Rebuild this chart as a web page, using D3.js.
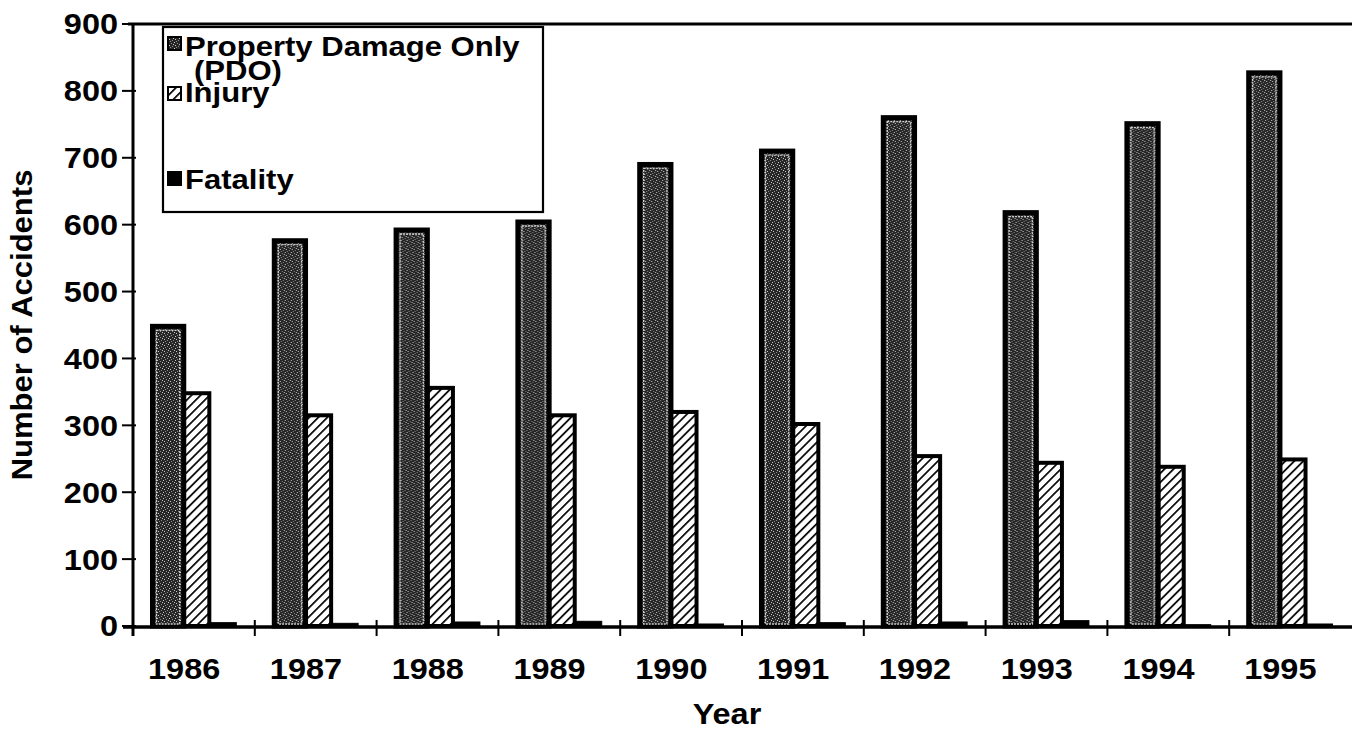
<!DOCTYPE html>
<html>
<head>
<meta charset="utf-8">
<script src="https://cdn.jsdelivr.net/npm/d3@7"></script>
<style>
  html, body { margin: 0; padding: 0; background: #fff; }
  svg { display: block; }
  text { font-family: "Liberation Sans", Arial, sans-serif; font-weight: bold; fill: #000; }
</style>
</head>
<body>
<svg id="chart" width="1352" height="730"></svg>
<script>
// ---- data ----
const years = ["1986","1987","1988","1989","1990","1991","1992","1993","1994","1995"];
const seriesNames = ["Property Damage Only (PDO)", "Injury", "Fatality"];
const pdo      = [448, 576, 592, 604, 690, 710, 760, 618, 751, 827];
const injury   = [348, 315, 356, 315, 320, 302, 254, 244, 238, 249];
const fatality = [5, 4, 6, 7, 3, 5, 6, 8, 2, 3];
const yTicks = [0, 100, 200, 300, 400, 500, 600, 700, 800, 900];

const svg = d3.select("#chart");
const W = 1352, H = 730;
const plot = { left: 133, right: 1351, top: 24, bottom: 626 };
const STRETCH = 1.12;
const FS = 29;

// ---- patterns ----
const defs = svg.append("defs");
const stip = defs.append("pattern").attr("id", "stipple")
  .attr("patternUnits", "userSpaceOnUse").attr("width", 6).attr("height", 6);
stip.append("rect").attr("width", 6).attr("height", 6).attr("fill", "#262626");
[[0,0],[3,1],[1,3],[4,4],[5,2],[2,5]].forEach(([x,yy],i) => {
  stip.append("rect").attr("x", x).attr("y", yy).attr("width", 1).attr("height", 1)
    .attr("fill", i % 2 ? "#8a8a8a" : "#c8c8c8");
});
const hatch = defs.append("pattern").attr("id", "hatch")
  .attr("patternUnits", "userSpaceOnUse").attr("width", 6.4).attr("height", 6.4)
  .attr("patternTransform", "rotate(45)");
hatch.append("rect").attr("width", 6.4).attr("height", 6.4).attr("fill", "#fff");
hatch.append("line").attr("x1", 0).attr("y1", 0).attr("x2", 0).attr("y2", 6.4)
  .attr("stroke", "#000").attr("stroke-width", 3.4);

// ---- scales ----
const x0 = d3.scaleBand().domain(years).range([plot.left, plot.right]).padding(0);
const bw = x0.bandwidth();
const x1 = d3.scaleBand().domain(seriesNames).range([bw * 0.16, bw * 0.86]).padding(0);
const sb = x1.bandwidth();
const y = d3.scaleLinear().domain([0, 900]).range([plot.bottom, plot.top]);

function stretchText(sel, x, yy, rot, s) {
  sel.attr("transform", `translate(${x},${yy})` + (rot ? ` rotate(${rot})` : "") + ` scale(${s || STRETCH},1)`);
}

// ---- bars ----
const data = years.map((yr, i) => ({ yr, vals: [pdo[i], injury[i], fatality[i]] }));
const groups = svg.append("g").selectAll("g").data(data).join("g")
  .attr("transform", d => `translate(${x0(d.yr)},0)`);

groups.append("rect")
  .attr("x", x1(seriesNames[2]))
  .attr("y", d => y(d.vals[2]))
  .attr("width", sb * 0.95)
  .attr("height", d => y(0) - y(d.vals[2]))
  .attr("fill", "#000").attr("stroke", "#000").attr("stroke-width", 1);

groups.append("rect")
  .attr("x", x1(seriesNames[1]) + sb * 0.1)
  .attr("y", d => y(d.vals[1]))
  .attr("width", sb * 0.9)
  .attr("height", d => y(0) - y(d.vals[1]))
  .attr("fill", "url(#hatch)").attr("stroke", "#000").attr("stroke-width", 4);

groups.append("rect")
  .attr("x", x1(seriesNames[0]))
  .attr("y", d => y(d.vals[0]))
  .attr("width", sb * 1.1)
  .attr("height", d => y(0) - y(d.vals[0]))
  .attr("fill", "url(#stipple)").attr("stroke", "#000").attr("stroke-width", 5);
groups.append("rect")
  .attr("x", x1(seriesNames[0]) + 4)
  .attr("y", d => y(d.vals[0]) + 4)
  .attr("width", sb * 1.1 - 8)
  .attr("height", d => y(0) - y(d.vals[0]) - 6)
  .attr("fill", "none").attr("stroke", "#d0d0d0").attr("stroke-width", 1.3)
  .attr("stroke-dasharray", "2,1");

// ---- axes ----
const axes = svg.append("g");
axes.append("line").attr("x1", plot.left - 5).attr("x2", W).attr("y1", y(900)).attr("y2", y(900))
  .attr("stroke", "#000").attr("stroke-width", 3);
axes.append("line").attr("x1", plot.left).attr("x2", plot.left).attr("y1", y(900)).attr("y2", y(0) + 10)
  .attr("stroke", "#000").attr("stroke-width", 3);
axes.append("line").attr("x1", plot.left - 10).attr("x2", W).attr("y1", y(0) + 1).attr("y2", y(0) + 1)
  .attr("stroke", "#000").attr("stroke-width", 3.4);

const yt = axes.append("g").selectAll("g").data(yTicks).join("g");
yt.append("line").attr("x1", plot.left - 11).attr("x2", plot.left + 3)
  .attr("y1", d => y(d)).attr("y2", d => y(d)).attr("stroke", "#000").attr("stroke-width", 2);
yt.append("text").attr("text-anchor", "end").attr("font-size", FS)
  .attr("dy", "0.36em")
  .each(function(d) { stretchText(d3.select(this), 118, y(d)); })
  .text(d => d);

const bounds = years.map(yr => x0(yr));
axes.append("g").selectAll("line").data(bounds).join("line")
  .attr("x1", d => d).attr("x2", d => d)
  .attr("y1", y(0) - 6).attr("y2", y(0) + 10)
  .attr("stroke", "#000").attr("stroke-width", 2);

axes.append("g").selectAll("text").data(years).join("text")
  .attr("text-anchor", "middle").attr("font-size", FS)
  .each(function(d) { stretchText(d3.select(this), x0(d) + bw * 0.42, 679); })
  .text(d => d);

svg.append("text").attr("text-anchor", "middle").attr("font-size", FS)
  .each(function() { stretchText(d3.select(this), 727, 724); })
  .text("Year");
svg.append("text").attr("text-anchor", "middle").attr("font-size", FS)
  .each(function() { stretchText(d3.select(this), 32, 325, -90, 1.07); })
  .text("Number of Accidents");

// ---- legend ----
const lg = svg.append("g");
lg.append("rect").attr("x", 163).attr("y", 27).attr("width", 380).attr("height", 185)
  .attr("fill", "#fff").attr("stroke", "#000").attr("stroke-width", 2.2);
const legendItems = [
  { fill: "url(#stipple)", sy: 37, lines: ["Property Damage Only", "(PDO)"], ty: [56, 80] },
  { fill: "url(#hatch)", sy: 87, lines: ["Injury"], ty: [102] },
  { fill: "#000", sy: 172, lines: ["Fatality"], ty: [189] }
];
legendItems.forEach((it) => {
  lg.append("rect").attr("x", 168).attr("y", it.sy).attr("width", 13).attr("height", 13)
    .attr("fill", it.fill).attr("stroke", "#000").attr("stroke-width", 2);
  it.lines.forEach((ln, j) => {
    lg.append("text").attr("font-size", 27)
      .each(function() { stretchText(d3.select(this), j === 0 ? 185 : 194, it.ty[j], 0, 1.15); })
      .text(ln);
  });
});
</script>
</body>
</html>
